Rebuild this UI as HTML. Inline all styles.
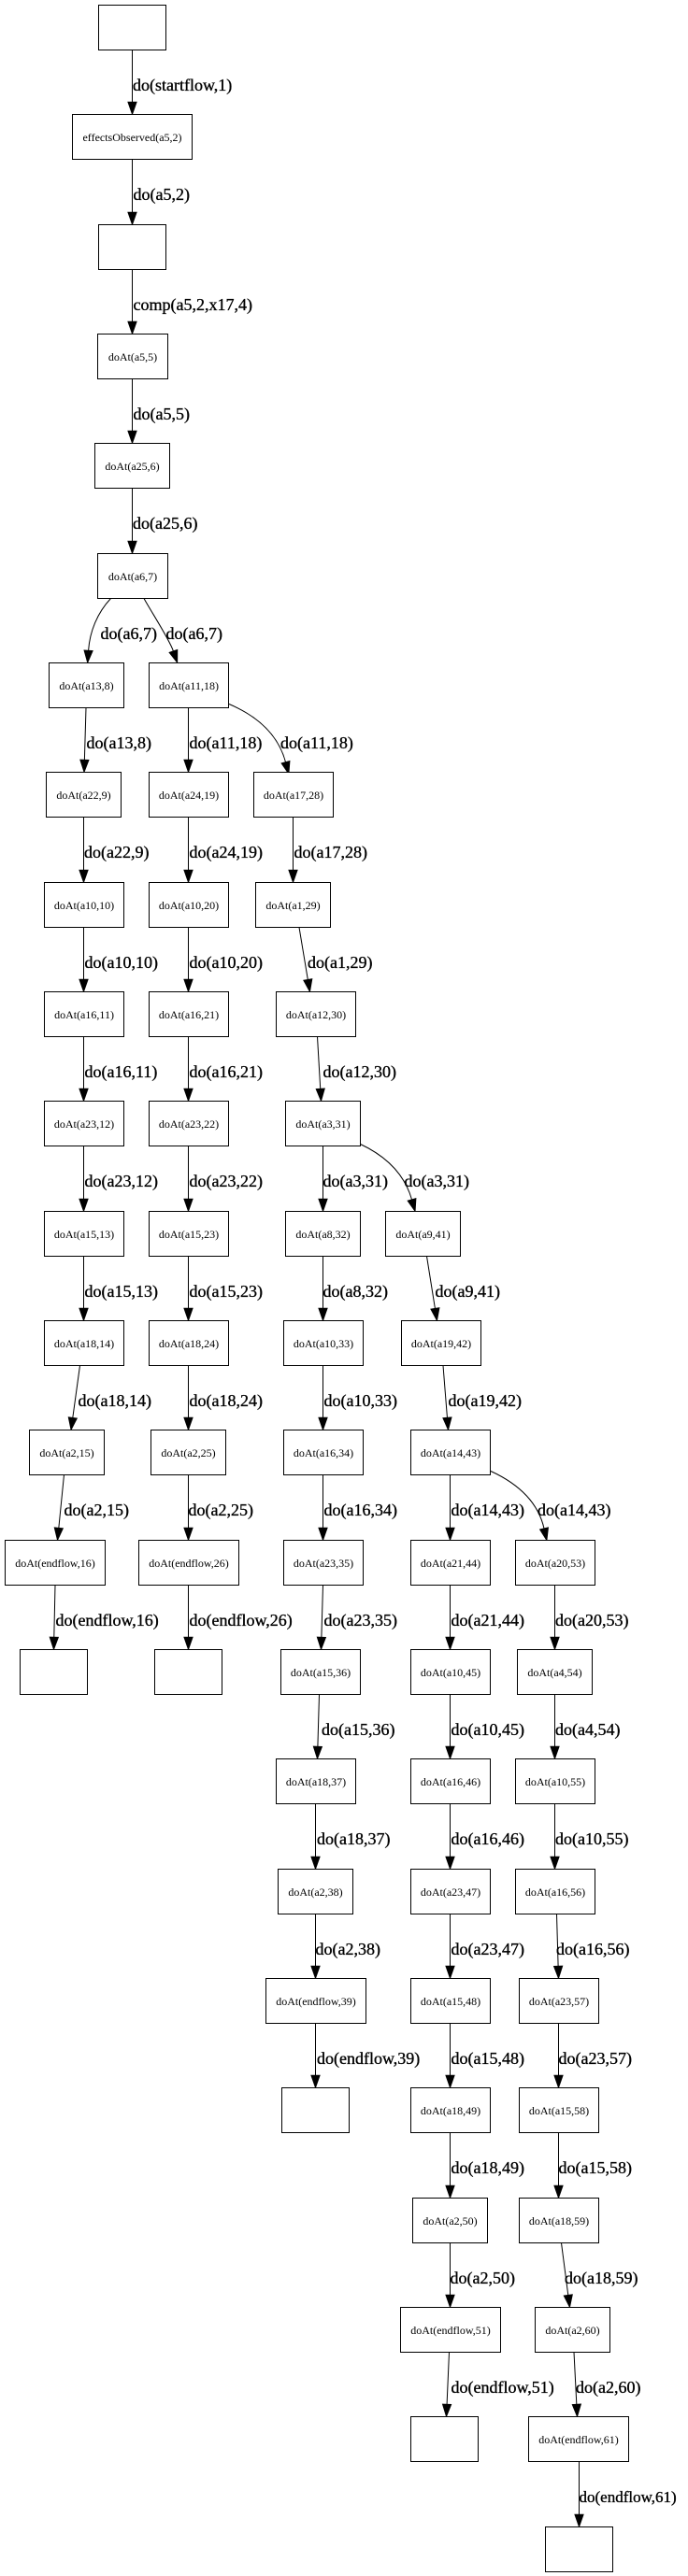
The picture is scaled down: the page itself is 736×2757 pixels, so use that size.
<!DOCTYPE html>
<html>
<head>
<meta charset="utf-8">
<style>
html,body{margin:0;padding:0;background:#fff;}
svg{display:block;}
.n rect{fill:#fff;stroke:#000;stroke-width:1;}
.n text{font-family:"Liberation Serif","Times New Roman",serif;font-size:12px;text-anchor:middle;fill:#000;}
.e path{fill:none;stroke:#000;stroke-width:1;marker-end:url(#a);}
.l text{font-family:"Liberation Serif","Times New Roman",serif;font-size:18px;fill:#000;stroke:#000;stroke-width:0.35;}
</style>
</head>
<body>
<svg width="736" height="2757" viewBox="0 0 736 2757" xmlns="http://www.w3.org/2000/svg">
<defs>
<marker id="a" markerUnits="userSpaceOnUse" markerWidth="14" markerHeight="10" refX="0" refY="4.67" orient="auto" viewBox="0 0 14 10" overflow="visible">
<path d="M0,0 L13.3,4.67 L0,9.34 Z" fill="#000" stroke="#000" stroke-width="0.8"/>
</marker>
</defs>
<rect x="0" y="0" width="736" height="2757" fill="#fff"/>

<g class="e">
<path d="M141.5 53.5V109.2"/>
<path d="M141.5 170.5V227.2"/>
<path d="M141.5 288.5V344.2"/>
<path d="M141.5 405.5V461.2"/>
<path d="M141.5 522.5V579.2"/>
<path d="M118.5,640.5 C104,656 96,676 94.6,696.2"/>
<path d="M154,640.5 C162,655 181,684 185.4,696.8"/>
<path d="M92,757.5 L90.39,813.2"/>
<path d="M89.5 874.5V931.2"/>
<path d="M89.5 992.5V1048.2"/>
<path d="M89.5 1109.5V1165.2"/>
<path d="M89.5 1226.5V1283.2"/>
<path d="M89.5 1344.5V1400.2"/>
<path d="M85.5,1461.5 L77.81,1517.32"/>
<path d="M68.5,1578.5 L62.82,1635.27"/>
<path d="M59,1696.5 L57.79,1752.2"/>
<path d="M201.5 757.5V813.2"/>
<path d="M201.5 874.5V931.2"/>
<path d="M201.5 992.5V1048.2"/>
<path d="M201.5 1109.5V1165.2"/>
<path d="M201.5 1226.5V1283.2"/>
<path d="M201.5 1344.5V1400.2"/>
<path d="M201.5 1461.5V1517.2"/>
<path d="M201.5 1578.5V1635.2"/>
<path d="M201.5 1696.5V1752.2"/>
<path d="M245,753.5 C272,765 297,784 305.5,815.6"/>
<path d="M313.5 874.5V931.2"/>
<path d="M320,992.5 L329.31,1048.38"/>
<path d="M339.5,1109.5 L342.73,1165.22"/>
<path d="M345.5 1226.5V1283.2"/>
<path d="M345.5 1344.5V1400.2"/>
<path d="M345.5 1461.5V1517.2"/>
<path d="M345.5 1578.5V1635.2"/>
<path d="M345.5,1696.5 L343.89,1752.21"/>
<path d="M341.5,1813.5 L339.89,1869.21"/>
<path d="M337.5 1930.5V1987.2"/>
<path d="M337.5 2048.5V2104.2"/>
<path d="M337.5 2165.5V2221.2"/>
<path d="M385.5,1224.5 C410,1236 432,1254 440.5,1283.8"/>
<path d="M456.5,1344.5 L465.41,1400.37"/>
<path d="M474,1461.5 L478.44,1517.24"/>
<path d="M481.5 1578.5V1635.2"/>
<path d="M481.5 1696.5V1752.2"/>
<path d="M481.5 1813.5V1869.2"/>
<path d="M481.5 1930.5V1987.2"/>
<path d="M481.5 2048.5V2104.2"/>
<path d="M481.5 2165.5V2221.2"/>
<path d="M481.5 2282.5V2339.2"/>
<path d="M481.5 2400.5V2456.2"/>
<path d="M480.5,2517.5 L478.08,2573.21"/>
<path d="M525,1574.5 C550,1586 575,1605 582,1635.8"/>
<path d="M593.5 1696.5V1752.2"/>
<path d="M593.5 1813.5V1869.2"/>
<path d="M593.5 1930.5V1987.2"/>
<path d="M595.5,2048.5 L597.11,2104.21"/>
<path d="M597.5 2165.5V2221.2"/>
<path d="M597.5 2282.5V2339.2"/>
<path d="M600.5,2400.5 L607.78,2456.31"/>
<path d="M614,2517.5 L616.83,2573.22"/>
<path d="M619.5 2634.5V2691.2"/>
</g>

<g class="n">
<rect x="105.5" y="5.5" width="72" height="48"/>
<rect x="77.5" y="122.5" width="128" height="48"/><text x="141.5" y="151">effectsObserved(a5,2)</text>
<rect x="105.5" y="240.5" width="72" height="48"/>
<rect x="104.5" y="357.5" width="75" height="48"/><text x="142" y="386">doAt(a5,5)</text>
<rect x="101.5" y="474.5" width="80" height="48"/><text x="141.5" y="503">doAt(a25,6)</text>
<rect x="104.5" y="592.5" width="75" height="48"/><text x="142" y="621">doAt(a6,7)</text>

<rect x="52.5" y="709.5" width="80" height="48"/><text x="92.5" y="738">doAt(a13,8)</text>
<rect x="159.5" y="709.5" width="85" height="48"/><text x="202" y="738">doAt(a11,18)</text>

<rect x="49.5" y="826.5" width="80" height="48"/><text x="89.5" y="855">doAt(a22,9)</text>
<rect x="159.5" y="826.5" width="85" height="48"/><text x="202" y="855">doAt(a24,19)</text>
<rect x="271.5" y="826.5" width="85" height="48"/><text x="314" y="855">doAt(a17,28)</text>

<rect x="47.5" y="944.5" width="85" height="48"/><text x="90" y="973">doAt(a10,10)</text>
<rect x="159.5" y="944.5" width="85" height="48"/><text x="202" y="973">doAt(a10,20)</text>
<rect x="273.5" y="944.5" width="80" height="48"/><text x="313.5" y="973">doAt(a1,29)</text>

<rect x="47.5" y="1061.5" width="85" height="48"/><text x="90" y="1090">doAt(a16,11)</text>
<rect x="159.5" y="1061.5" width="85" height="48"/><text x="202" y="1090">doAt(a16,21)</text>
<rect x="295.5" y="1061.5" width="85" height="48"/><text x="338" y="1090">doAt(a12,30)</text>

<rect x="47.5" y="1178.5" width="85" height="48"/><text x="90" y="1207">doAt(a23,12)</text>
<rect x="159.5" y="1178.5" width="85" height="48"/><text x="202" y="1207">doAt(a23,22)</text>
<rect x="305.5" y="1178.5" width="80" height="48"/><text x="345.5" y="1207">doAt(a3,31)</text>

<rect x="47.5" y="1296.5" width="85" height="48"/><text x="90" y="1325">doAt(a15,13)</text>
<rect x="159.5" y="1296.5" width="85" height="48"/><text x="202" y="1325">doAt(a15,23)</text>
<rect x="305.5" y="1296.5" width="80" height="48"/><text x="345.5" y="1325">doAt(a8,32)</text>
<rect x="412.5" y="1296.5" width="80" height="48"/><text x="452.5" y="1325">doAt(a9,41)</text>

<rect x="47.5" y="1413.5" width="85" height="48"/><text x="90" y="1442">doAt(a18,14)</text>
<rect x="159.5" y="1413.5" width="85" height="48"/><text x="202" y="1442">doAt(a18,24)</text>
<rect x="303.5" y="1413.5" width="85" height="48"/><text x="346" y="1442">doAt(a10,33)</text>
<rect x="429.5" y="1413.5" width="85" height="48"/><text x="472" y="1442">doAt(a19,42)</text>

<rect x="31.5" y="1530.5" width="80" height="48"/><text x="71.5" y="1559">doAt(a2,15)</text>
<rect x="161.5" y="1530.5" width="80" height="48"/><text x="201.5" y="1559">doAt(a2,25)</text>
<rect x="303.5" y="1530.5" width="85" height="48"/><text x="346" y="1559">doAt(a16,34)</text>
<rect x="439.5" y="1530.5" width="85" height="48"/><text x="482" y="1559">doAt(a14,43)</text>

<rect x="5.5" y="1648.5" width="107" height="48"/><text x="59" y="1677">doAt(endflow,16)</text>
<rect x="148.5" y="1648.5" width="107" height="48"/><text x="202" y="1677">doAt(endflow,26)</text>
<rect x="303.5" y="1648.5" width="85" height="48"/><text x="346" y="1677">doAt(a23,35)</text>
<rect x="439.5" y="1648.5" width="85" height="48"/><text x="482" y="1677">doAt(a21,44)</text>
<rect x="551.5" y="1648.5" width="85" height="48"/><text x="594" y="1677">doAt(a20,53)</text>

<rect x="21.5" y="1765.5" width="72" height="48"/>
<rect x="165.5" y="1765.5" width="72" height="48"/>
<rect x="300.5" y="1765.5" width="85" height="48"/><text x="343" y="1794">doAt(a15,36)</text>
<rect x="439.5" y="1765.5" width="85" height="48"/><text x="482" y="1794">doAt(a10,45)</text>
<rect x="553.5" y="1765.5" width="80" height="48"/><text x="593.5" y="1794">doAt(a4,54)</text>

<rect x="295.5" y="1882.5" width="85" height="48"/><text x="338" y="1911">doAt(a18,37)</text>
<rect x="439.5" y="1882.5" width="85" height="48"/><text x="482" y="1911">doAt(a16,46)</text>
<rect x="551.5" y="1882.5" width="85" height="48"/><text x="594" y="1911">doAt(a10,55)</text>

<rect x="297.5" y="2000.5" width="80" height="48"/><text x="337.5" y="2029">doAt(a2,38)</text>
<rect x="439.5" y="2000.5" width="85" height="48"/><text x="482" y="2029">doAt(a23,47)</text>
<rect x="551.5" y="2000.5" width="85" height="48"/><text x="594" y="2029">doAt(a16,56)</text>

<rect x="284.5" y="2117.5" width="107" height="48"/><text x="338" y="2146">doAt(endflow,39)</text>
<rect x="439.5" y="2117.5" width="85" height="48"/><text x="482" y="2146">doAt(a15,48)</text>
<rect x="555.5" y="2117.5" width="85" height="48"/><text x="598" y="2146">doAt(a23,57)</text>

<rect x="301.5" y="2234.5" width="72" height="48"/>
<rect x="439.5" y="2234.5" width="85" height="48"/><text x="482" y="2263">doAt(a18,49)</text>
<rect x="555.5" y="2234.5" width="85" height="48"/><text x="598" y="2263">doAt(a15,58)</text>

<rect x="441.5" y="2352.5" width="80" height="48"/><text x="481.5" y="2381">doAt(a2,50)</text>
<rect x="555.5" y="2352.5" width="85" height="48"/><text x="598" y="2381">doAt(a18,59)</text>

<rect x="428.5" y="2469.5" width="107" height="48"/><text x="482" y="2498">doAt(endflow,51)</text>
<rect x="572.5" y="2469.5" width="80" height="48"/><text x="612.5" y="2498">doAt(a2,60)</text>

<rect x="439.5" y="2586.5" width="72" height="48"/>
<rect x="565.5" y="2586.5" width="107" height="48"/><text x="619" y="2615">doAt(endflow,61)</text>

<rect x="583.5" y="2704.5" width="72" height="48"/>
</g>

<g class="l">
<text x="142" y="97">do(startflow,1)</text>
<text x="142.5" y="214">do(a5,2)</text>
<text x="142.5" y="332">comp(a5,2,x17,4)</text>
<text x="142.5" y="449">do(a5,5)</text>
<text x="142" y="566">do(a25,6)</text>
<text x="107.5" y="684">do(a6,7)</text>
<text x="177.5" y="684">do(a6,7)</text>

<text x="92.5" y="801">do(a13,8)</text>
<text x="202.5" y="801">do(a11,18)</text>
<text x="300" y="801">do(a11,18)</text>

<text x="90" y="918">do(a22,9)</text>
<text x="202.5" y="918">do(a24,19)</text>
<text x="314.5" y="918">do(a17,28)</text>

<text x="90.5" y="1036">do(a10,10)</text>
<text x="202.5" y="1036">do(a10,20)</text>
<text x="329" y="1036">do(a1,29)</text>

<text x="90.5" y="1153">do(a16,11)</text>
<text x="202.5" y="1153">do(a16,21)</text>
<text x="345.5" y="1153">do(a12,30)</text>

<text x="90.5" y="1270">do(a23,12)</text>
<text x="202.5" y="1270">do(a23,22)</text>
<text x="345.5" y="1270">do(a3,31)</text>
<text x="432.5" y="1270">do(a3,31)</text>

<text x="90.5" y="1388">do(a15,13)</text>
<text x="202.5" y="1388">do(a15,23)</text>
<text x="345.5" y="1388">do(a8,32)</text>
<text x="465.5" y="1388">do(a9,41)</text>

<text x="83.5" y="1505">do(a18,14)</text>
<text x="202.5" y="1505">do(a18,24)</text>
<text x="346.5" y="1505">do(a10,33)</text>
<text x="479.5" y="1505">do(a19,42)</text>

<text x="68.5" y="1622">do(a2,15)</text>
<text x="201.5" y="1622">do(a2,25)</text>
<text x="346.5" y="1622">do(a16,34)</text>
<text x="482.5" y="1622">do(a14,43)</text>
<text x="575" y="1622">do(a14,43)</text>

<text x="59.5" y="1740">do(endflow,16)</text>
<text x="202.5" y="1740">do(endflow,26)</text>
<text x="346.5" y="1740">do(a23,35)</text>
<text x="482.5" y="1740">do(a21,44)</text>
<text x="594" y="1740">do(a20,53)</text>

<text x="344" y="1857">do(a15,36)</text>
<text x="482.5" y="1857">do(a10,45)</text>
<text x="594" y="1857">do(a4,54)</text>

<text x="339" y="1974">do(a18,37)</text>
<text x="482.5" y="1974">do(a16,46)</text>
<text x="594" y="1974">do(a10,55)</text>

<text x="337.5" y="2092">do(a2,38)</text>
<text x="482.5" y="2092">do(a23,47)</text>
<text x="595" y="2092">do(a16,56)</text>

<text x="339" y="2209">do(endflow,39)</text>
<text x="482.5" y="2209">do(a15,48)</text>
<text x="597.5" y="2209">do(a23,57)</text>

<text x="482.5" y="2326">do(a18,49)</text>
<text x="597.5" y="2326">do(a15,58)</text>

<text x="481.5" y="2444">do(a2,50)</text>
<text x="604" y="2444">do(a18,59)</text>

<text x="482.5" y="2561">do(endflow,51)</text>
<text x="616" y="2561">do(a2,60)</text>

<text x="619.5" y="2678" style="font-size:17px">do(endflow,61)</text>
</g>
</svg>
</body>
</html>
